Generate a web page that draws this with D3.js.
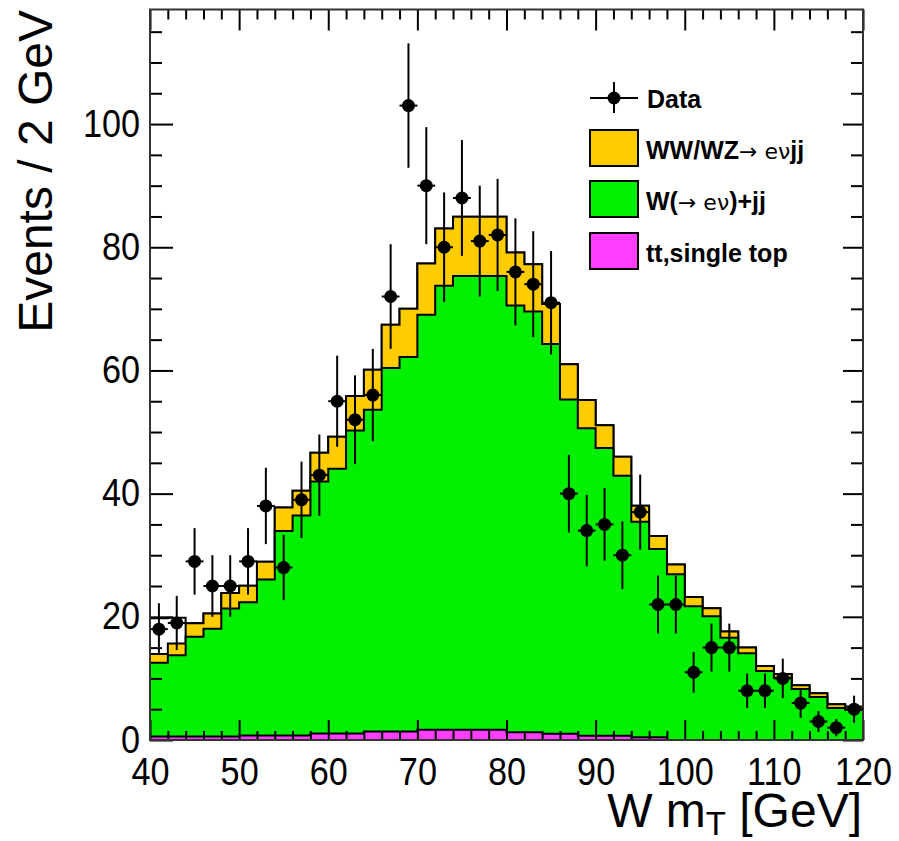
<!DOCTYPE html>
<html><head><meta charset="utf-8">
<script src="https://cdn.jsdelivr.net/npm/d3@7"></script>
<style>body{margin:0;background:#fff}svg text{font-family:"Liberation Sans",Arial,Helvetica,sans-serif}</style>
</head><body>
<svg id="c" width="899" height="841"></svg>
<script>
// ---- data ----
const binLow = [40,42,44,46,48,50,52,54,56,58,60,62,64,66,68,70,72,74,76,78,80,82,84,86,88,90,92,94,96,98,100,102,104,106,108,110,112,114,116,118];
const binWidth = 2;
const topBkg = [0.55,0.55,0.55,0.55,0.55,0.75,0.75,0.75,0.75,1.05,1.05,1.05,1.4,1.4,1.4,1.65,1.65,1.65,1.65,1.65,1.25,1.25,1.0,1.0,0.7,0.7,0.7,0.43,0.43,0,0,0,0,0,0,0,0,0,0,0];
const wjets = [12.0,13.2,16.2,17.5,20.8,21.6,25.3,33.2,35.7,40.9,43.0,49.2,52.2,59.0,60.8,67.4,72.1,73.7,73.7,73.7,69.3,68.3,63.3,54.3,49.9,46.7,42.2,35.0,30.6,26.9,21.7,20.1,16.6,14.1,11.2,10.1,8.3,7.0,5.2,4.9];
const diboson = [1.4,1.9,2.2,2.5,2.5,2.7,2.9,3.8,4.0,4.7,5.2,5.6,6.5,7.0,7.8,8.3,9.3,9.6,9.6,9.6,8.6,7.7,6.5,5.7,4.6,3.7,3.1,2.6,2.1,1.6,1.5,1.3,1.0,0.9,0.8,0.6,0.6,0.6,0.6,0.5];
const other = [5.8,4.2,0,0,0,0,0,0,0,0,0,0,0,0,0,0,0,0,0,0,0,0,0,0,0,0,0,0,0,0,0,0,0,0,0,0,0,0,0,0];
const dataY = [18,19,29,25,25,29,38,28,39,43,55,52,56,72,103,90,80,88,81,82,76,74,71,40,34,35,30,37,22,22,11,15,15,8,8,10,6,3,2,5];
const dataErr = [4.2,4.4,5.4,5.0,5.0,5.4,6.2,5.3,6.2,6.6,7.4,7.2,7.5,8.5,10.1,9.5,8.9,9.4,9.0,9.1,8.7,8.6,8.4,6.3,5.8,5.9,5.5,6.1,4.7,4.7,3.3,3.9,3.9,2.8,2.8,3.2,2.4,1.7,1.4,2.2];
const xMajor = [40,50,60,70,80,90,100,110,120];
const yMajor = [0,20,40,60,80,100];
const legendLabels = ["Data","WW/WZ→ eνjj","W(→ eν)+jj","tt,single top"];

// ---- layout ----
const L = 150, R = 863, T = 9.5, B = 740;
const svg = d3.select("#c");
const x = d3.scaleLinear().domain([40,120]).range([L,R]);
const y = d3.scaleLinear().domain([0,118.6]).range([B,T]);

const rows = binLow.map((b,i)=>({lo:b, top:topBkg[i], wjets:wjets[i], diboson:diboson[i], other:other[i]}));
const keys = ["top","wjets","diboson","other"];
const colors = {top:"#ff3dff", wjets:"#00f000", diboson:"#ffcc00", other:"#ffffff"};
const stack = d3.stack().keys(keys)(rows);

const area = d3.area().curve(d3.curveStepAfter)
  .x(d=>x(d.xv)).y0(y(0)).y1(d=>y(d.v));

for (let k = stack.length-1; k>=0; k--) {
  const layer = stack[k];
  const pts = layer.map((s,i)=>({xv:rows[i].lo, v:s[1]}));
  pts.push({xv:rows[rows.length-1].lo+binWidth, v:layer[layer.length-1][1]});
  svg.append("path").attr("d", area(pts))
    .attr("fill", colors[keys[k]]).attr("stroke","#000").attr("stroke-width",2)
    .attr("stroke-linejoin","miter");
}

// ---- axes (ticks inside) ----
const xMinor = d3.range(40,121,2).filter(v=>v%10!==0);
const yMinor = d3.range(0,118,5).filter(v=>v%20!==0);
function styleAxis(g){ g.select(".domain").remove(); g.selectAll("line").attr("stroke","#000").attr("stroke-width",2); }
const labelSize = 38, sx = 0.9;
function condense(sel){
  sel.attr("font-size",labelSize).attr("fill","#000").attr("font-family","Liberation Sans, Arial, sans-serif")
    .each(function(){ const w = this.getComputedTextLength();
      d3.select(this).attr("textLength", w*sx).attr("lengthAdjust","spacingAndGlyphs"); });
}

svg.append("g").attr("transform",`translate(0,${B})`)
  .call(d3.axisBottom(x).tickValues(xMajor).tickSize(-20).tickPadding(18).tickFormat(d3.format("d")))
  .call(styleAxis).selectAll("text").call(condense);
svg.append("g").attr("transform",`translate(0,${B})`)
  .call(d3.axisBottom(x).tickValues(xMinor).tickSize(-9).tickFormat("")).call(styleAxis);
svg.append("g").attr("transform",`translate(0,${T})`)
  .call(d3.axisTop(x).tickValues(xMajor).tickSize(-21).tickFormat("")).call(styleAxis);
svg.append("g").attr("transform",`translate(0,${T})`)
  .call(d3.axisTop(x).tickValues(xMinor).tickSize(-10).tickFormat("")).call(styleAxis);

svg.append("g").attr("transform",`translate(${L},0)`)
  .call(d3.axisLeft(y).tickValues(yMajor).tickSize(-23).tickPadding(10).tickFormat(d3.format("d")))
  .call(styleAxis).selectAll("text").call(condense);
svg.append("g").attr("transform",`translate(${L},0)`)
  .call(d3.axisLeft(y).tickValues(yMinor).tickSize(-12).tickFormat("")).call(styleAxis);
svg.append("g").attr("transform",`translate(${R},0)`)
  .call(d3.axisRight(y).tickValues(yMajor).tickSize(-20).tickFormat("")).call(styleAxis);
svg.append("g").attr("transform",`translate(${R},0)`)
  .call(d3.axisRight(y).tickValues(yMinor).tickSize(-12).tickFormat("")).call(styleAxis);

// frame
svg.append("rect").attr("x",L).attr("y",T).attr("width",R-L).attr("height",B-T)
  .attr("fill","none").attr("stroke","#333").attr("stroke-width",2);

// ---- data points ----
const pts = svg.append("g");
dataY.forEach((v,i)=>{
  const cx = x(binLow[i]+binWidth/2);
  pts.append("line").attr("x1",cx).attr("x2",cx).attr("y1",y(v-dataErr[i])).attr("y2",y(v+dataErr[i]))
    .attr("stroke","#000").attr("stroke-width",2);
  pts.append("line").attr("x1",x(binLow[i])).attr("x2",x(binLow[i]+binWidth)).attr("y1",y(v)).attr("y2",y(v))
    .attr("stroke","#000").attr("stroke-width",2);
  pts.append("circle").attr("cx",cx).attr("cy",y(v)).attr("r",6.5).attr("fill","#000");
});

// ---- titles ----
const xt = svg.append("text").attr("x",862).attr("y",827).attr("text-anchor","end")
  .attr("font-size",48).attr("fill","#000");
xt.append("tspan").text("W m");
xt.append("tspan").attr("font-size",33).attr("dy",8).text("T");
xt.append("tspan").attr("dy",-8).text(" [GeV]");

svg.append("text").attr("transform","translate(52,10) rotate(-90)").attr("text-anchor","end")
  .attr("font-size",48).attr("fill","#000").text("Events / 2 GeV");

// ---- legend ----
const lg = svg.append("g");
lg.append("line").attr("x1",590).attr("x2",638).attr("y1",98).attr("y2",98).attr("stroke","#000").attr("stroke-width",2);
lg.append("line").attr("x1",614).attr("x2",614).attr("y1",82).attr("y2",113).attr("stroke","#000").attr("stroke-width",2);
lg.append("circle").attr("cx",614).attr("cy",98).attr("r",6.5).attr("fill","#000");
lg.append("text").attr("x",647).attr("y",108).attr("font-size",25).attr("font-weight","bold").text(legendLabels[0]);

const boxes = [{c:colors.diboson,y:130},{c:colors.wjets,y:181},{c:colors.top,y:233}];
boxes.forEach(b=>lg.append("rect").attr("x",590).attr("y",b.y).attr("width",48).attr("height",36)
  .attr("fill",b.c).attr("stroke","#000").attr("stroke-width",2));

const t1 = lg.append("text").attr("x",646).attr("y",159).attr("font-size",25).attr("font-weight","bold");
t1.append("tspan").text("WW/WZ");
t1.append("tspan").attr("font-weight","normal").attr("font-family","DejaVu Sans").attr("font-size",22).text("→ eν");
t1.append("tspan").text("jj");
const t2 = lg.append("text").attr("x",646).attr("y",210).attr("font-size",25).attr("font-weight","bold");
t2.append("tspan").text("W(");
t2.append("tspan").attr("font-weight","normal").attr("font-family","DejaVu Sans").attr("font-size",22).text("→ eν");
t2.append("tspan").text(")+jj");
lg.append("text").attr("x",646).attr("y",262).attr("font-size",25).attr("font-weight","bold").text(legendLabels[3]);
</script>
</body></html>
